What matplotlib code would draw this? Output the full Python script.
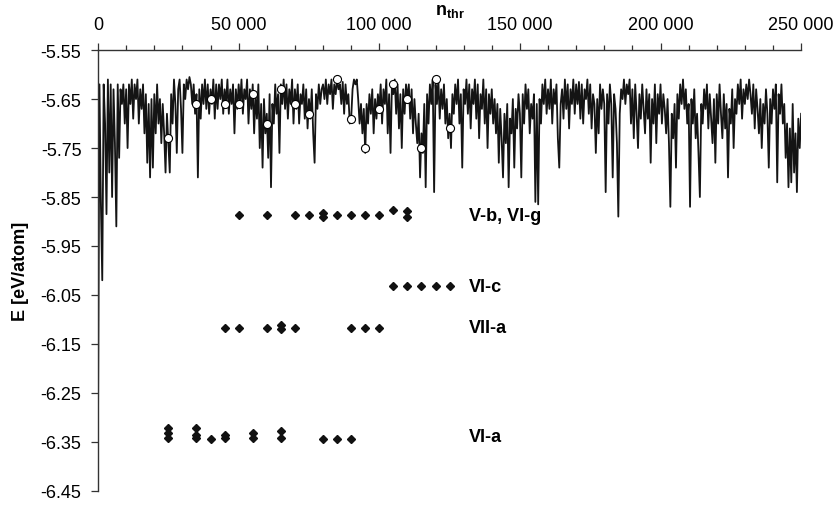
import numpy as np
import matplotlib.pyplot as plt

plt.rcParams['font.family'] = ['Liberation Sans', 'DejaVu Sans']
plt.rcParams['mathtext.fontset'] = 'custom'
plt.rcParams['mathtext.rm'] = 'Liberation Sans'
plt.rcParams['mathtext.bf'] = 'Liberation Sans:bold'

# energy of the run, read every 500 steps
step = 500
e_run = [
    -6.30, -5.62, -5.86, -6.02, -5.62, -5.70, -5.885, -5.61, -5.80, -5.62, -5.85, -5.63, -5.74, -5.91, -5.62, -5.77, -5.63, -5.66, -5.62, -5.70,
    -5.63, -5.75, -5.62, -5.66, -5.61, -5.69, -5.62, -5.65, -5.61, -5.70, -5.63, -5.67, -5.62, -5.72, -5.64, -5.78, -5.66, -5.81, -5.65, -5.79,
    -5.64, -5.72, -5.62, -5.70, -5.65, -5.74, -5.66, -5.72, -5.80, -5.68, -5.74, -5.80, -5.64, -5.70, -5.61, -5.66, -5.76, -5.63, -5.61, -5.67,
    -5.76, -5.62, -5.65, -5.61, -5.63, -5.605, -5.62, -5.66, -5.62, -5.68, -5.64, -5.81, -5.63, -5.69, -5.62, -5.66, -5.61, -5.67, -5.62, -5.68,
    -5.63, -5.66, -5.61, -5.69, -5.62, -5.67, -5.62, -5.65, -5.61, -5.68, -5.63, -5.66, -5.61, -5.68, -5.63, -5.66, -5.62, -5.72, -5.63, -5.67,
    -5.62, -5.66, -5.61, -5.68, -5.63, -5.65, -5.61, -5.70, -5.63, -5.67, -5.62, -5.72, -5.64, -5.69, -5.62, -5.75, -5.66, -5.79, -5.65, -5.72,
    -5.68, -5.77, -5.64, -5.83, -5.66, -5.70, -5.62, -5.68, -5.64, -5.76, -5.62, -5.66, -5.61, -5.67, -5.62, -5.69, -5.63, -5.66, -5.61, -5.70,
    -5.63, -5.67, -5.62, -5.70, -5.64, -5.66, -5.62, -5.69, -5.63, -5.71, -5.65, -5.69, -5.63, -5.72, -5.78, -5.64, -5.67, -5.62, -5.66, -5.63,
    -5.62, -5.65, -5.61, -5.66, -5.62, -5.64, -5.61, -5.67, -5.62, -5.64, -5.61, -5.63, -5.62, -5.66, -5.615, -5.68, -5.62, -5.66, -5.64, -5.70,
    -5.69, -5.63, -5.61, -5.62, -5.61, -5.65, -5.70, -5.66, -5.72, -5.67, -5.76, -5.66, -5.70, -5.64, -5.68, -5.63, -5.72, -5.65, -5.69, -5.64,
    -5.67, -5.62, -5.70, -5.63, -5.66, -5.61, -5.72, -5.64, -5.76, -5.62, -5.64, -5.61, -5.68, -5.62, -5.71, -5.64, -5.75, -5.63, -5.68, -5.62,
    -5.65, -5.62, -5.69, -5.63, -5.72, -5.65, -5.70, -5.74, -5.68, -5.81, -5.72, -5.76, -5.66, -5.83, -5.64, -5.70, -5.62, -5.66, -5.61, -5.84,
    -5.62, -5.66, -5.61, -5.69, -5.63, -5.67, -5.62, -5.70, -5.65, -5.73, -5.68, -5.75, -5.64, -5.68, -5.62, -5.66, -5.61, -5.70, -5.64, -5.79,
    -5.63, -5.66, -5.61, -5.68, -5.62, -5.71, -5.63, -5.66, -5.61, -5.69, -5.62, -5.73, -5.64, -5.67, -5.61, -5.70, -5.63, -5.75, -5.64, -5.68,
    -5.63, -5.70, -5.65, -5.72, -5.66, -5.78, -5.67, -5.73, -5.81, -5.68, -5.74, -5.66, -5.83, -5.69, -5.72, -5.65, -5.79, -5.67, -5.71, -5.64,
    -5.68, -5.81, -5.64, -5.70, -5.62, -5.67, -5.63, -5.72, -5.66, -5.69, -5.64, -5.86, -5.66, -5.865, -5.65, -5.70, -5.62, -5.66, -5.61, -5.68,
    -5.63, -5.67, -5.61, -5.70, -5.63, -5.66, -5.62, -5.73, -5.79, -5.66, -5.63, -5.69, -5.61, -5.67, -5.62, -5.71, -5.63, -5.66, -5.61, -5.68,
    -5.62, -5.66, -5.615, -5.69, -5.62, -5.70, -5.63, -5.65, -5.61, -5.68, -5.62, -5.71, -5.64, -5.66, -5.76, -5.65, -5.72, -5.62, -5.67, -5.63,
    -5.66, -5.84, -5.64, -5.70, -5.62, -5.66, -5.81, -5.64, -5.67, -5.74, -5.89, -5.68, -5.63, -5.65, -5.61, -5.66, -5.62, -5.64, -5.61, -5.70,
    -5.63, -5.73, -5.62, -5.68, -5.75, -5.64, -5.69, -5.62, -5.67, -5.72, -5.63, -5.69, -5.64, -5.78, -5.65, -5.70, -5.62, -5.74, -5.64, -5.68,
    -5.62, -5.70, -5.64, -5.67, -5.72, -5.65, -5.74, -5.87, -5.68, -5.73, -5.66, -5.79, -5.64, -5.69, -5.62, -5.66, -5.61, -5.67, -5.63, -5.70,
    -5.66, -5.87, -5.65, -5.70, -5.63, -5.73, -5.68, -5.76, -5.85, -5.66, -5.70, -5.63, -5.67, -5.62, -5.71, -5.64, -5.69, -5.74, -5.65, -5.78,
    -5.64, -5.70, -5.62, -5.68, -5.73, -5.64, -5.71, -5.66, -5.81, -5.67, -5.70, -5.63, -5.75, -5.65, -5.68, -5.62, -5.66, -5.61, -5.69, -5.63,
    -5.66, -5.62, -5.65, -5.61, -5.64, -5.68, -5.62, -5.71, -5.63, -5.67, -5.72, -5.65, -5.75, -5.66, -5.70, -5.63, -5.68, -5.79, -5.65, -5.70,
    -5.63, -5.67, -5.62, -5.82, -5.64, -5.68, -5.62, -5.70, -5.66, -5.77, -5.70, -5.83, -5.71, -5.82, -5.66, -5.80, -5.72, -5.84, -5.69, -5.75,
    -5.68,
]
n_run = np.arange(len(e_run)) * step

# open circles
open_n = [25000, 35000, 40000, 45000, 50000, 55000, 60000, 65000, 70000, 75000,
          85000, 90000, 95000, 100000, 105000, 110000, 115000, 120000, 125000]
open_e = [-5.73, -5.66, -5.65, -5.66, -5.66, -5.64, -5.70, -5.63, -5.66, -5.68,
          -5.61, -5.69, -5.75, -5.67, -5.62, -5.65, -5.75, -5.61, -5.71]

# structures (filled diamonds)
vb_n = [50000, 60000, 70000, 75000, 80000, 80000, 85000, 90000, 95000, 100000, 105000, 110000, 110000]
vb_e = [-5.887, -5.887, -5.887, -5.887, -5.883, -5.891, -5.887, -5.887, -5.887, -5.887, -5.877, -5.879, -5.891]
vic_n = [105000, 110000, 115000, 120000, 125000]
vic_e = [-6.032, -6.032, -6.032, -6.032, -6.032]
viia_n = [45000, 50000, 60000, 65000, 65000, 70000, 90000, 95000, 100000]
viia_e = [-6.117, -6.117, -6.117, -6.112, -6.120, -6.117, -6.117, -6.117, -6.117]
via_n = [25000, 25000, 25000, 35000, 35000, 35000, 40000, 45000, 45000, 55000, 55000,
         65000, 65000, 80000, 85000, 90000]
via_e = [-6.322, -6.332, -6.342, -6.321, -6.336, -6.342, -6.345, -6.335, -6.343, -6.331, -6.343,
         -6.328, -6.342, -6.345, -6.345, -6.345]

group_names = ['V-b, VI-g', 'VI-c', 'VII-a', 'VI-a']
group_e = [-5.888, -6.032, -6.117, -6.340]

x_ticks = [0, 50000, 100000, 150000, 200000, 250000]
x_labels = ['0', '50 000', '100 000', '150 000', '200 000', '250 000']
y_ticks = [-6.45, -6.35, -6.25, -6.15, -6.05, -5.95, -5.85, -5.75, -5.65, -5.55]

fig = plt.figure(figsize=(8.38, 5.06), dpi=100)
ax = fig.add_axes([0.117, 0.028, 0.839, 0.871])

ax.plot(n_run, e_run, color='#141414', linewidth=1.3, zorder=2)
ax.plot(open_n, open_e, 'o', ms=5.8, mfc='white', mec='black', mew=0.8, zorder=4)
for nn, ee in [(vb_n, vb_e), (vic_n, vic_e), (viia_n, viia_e), (via_n, via_e)]:
    ax.plot(nn, ee, 'D', ms=3.6, color='#111111', zorder=3)

for name, ee in zip(group_names, group_e):
    ax.text(132000, ee, name, fontsize=13, fontweight='bold', ha='left', va='center')

ax.set_xlim(0, 250000)
ax.set_ylim(-6.45, -5.55)
ax.xaxis.tick_top()
ax.xaxis.set_label_position('top')
ax.set_xticks(x_ticks)
ax.set_xticklabels(x_labels)
ax.set_xticks(np.arange(0, 250001, 10000), minor=True)
ax.set_yticks(y_ticks)
ax.set_yticklabels(['%.2f' % v for v in y_ticks])

ax.tick_params(axis='both', which='major', direction='out', length=5, width=0.9,
               labelsize=13, pad=7, color='#333333')
ax.tick_params(axis='x', which='minor', direction='out', length=3.5, width=0.9, color='#333333')

for side in ['right', 'bottom']:
    ax.spines[side].set_visible(False)
for side in ['left', 'top']:
    ax.spines[side].set_color('#333333')
    ax.spines[side].set_linewidth(1.0)

ax.set_xlabel(r'$\mathbf{n}_{\mathbf{thr}}$', fontsize=13, labelpad=2)
ax.set_ylabel('E [eV/atom]', fontsize=13, fontweight='bold', labelpad=8)

fig.savefig('out.png', dpi=100)
